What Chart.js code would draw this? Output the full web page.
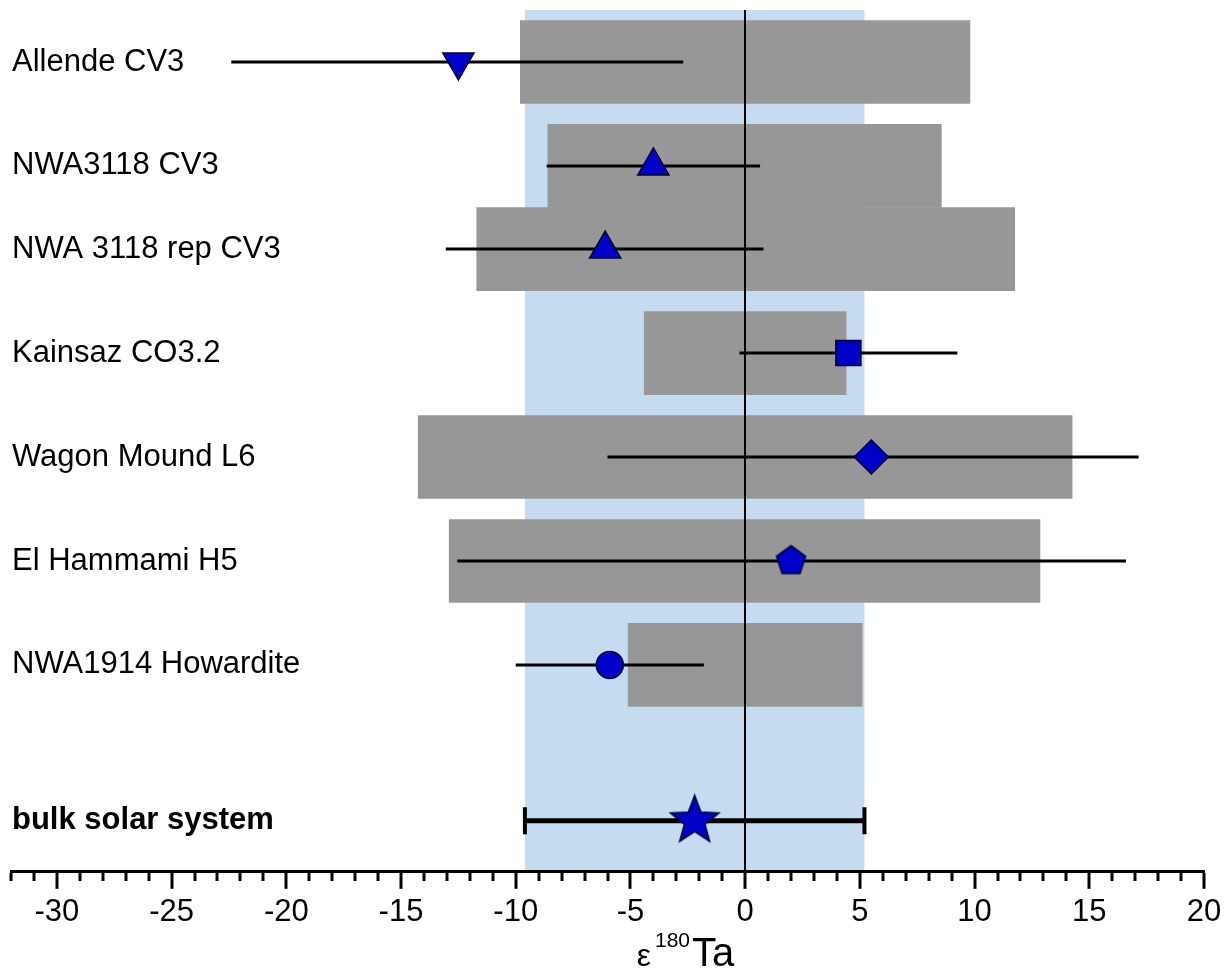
<!DOCTYPE html>
<html>
<head>
<meta charset="utf-8">
<script src="https://cdn.jsdelivr.net/npm/chart.js@4.4.1/dist/chart.umd.min.js"></script>
<style>
  html, body { margin: 0; padding: 0; background: #fff; }
  canvas { display: block; }
</style>
</head>
<body>
<canvas id="ta" width="1232" height="971"></canvas>
<script>
// samples, top to bottom
const samples = ['Allende CV3', 'NWA3118 CV3', 'NWA 3118 rep CV3', 'Kainsaz CO3.2', 'Wagon Mound L6', 'El Hammami H5', 'NWA1914 Howardite', 'bulk solar system'];
// where each sample sits on the vertical axis
const rowPos = [1, 2, 2.8, 3.8, 4.8, 5.8, 6.8, 8.3];
// measured e180Ta with its error bar
const eps = [-12.5, -4.0, -6.1, 4.5, 5.5, 2.0, -5.9, -2.2];
const errLow = [-22.4, -8.65, -13.05, -0.25, -6.0, -12.55, -10.0, -9.6];
const errHigh = [-2.7, 0.65, 0.8, 9.25, 17.15, 16.6, -1.8, 5.2];
// grey bars (one per meteorite)
const rangeLow = [-9.8, -8.6, -11.7, -4.4, -14.25, -12.9, -5.1];
const rangeHigh = [9.8, 8.55, 11.75, 4.4, 14.25, 12.85, 5.1];
// light blue band, bulk solar system range
const bulkBand = [-9.6, 5.2];
const xRange = [-32, 20];

const FONT = '"Liberation Sans", Arial, sans-serif';
const FILL = '#0000c8';
const EDGE = '#000030';

// pentagon and filled star are not built in, so draw them on small canvases
function polygon(n, R, inner) {
    const c = document.createElement('canvas');
    const s = Math.ceil(2 * R + 4);
    c.width = s; c.height = s;
    const g = c.getContext('2d');
    const k = inner ? 2 * n : n;
    g.beginPath();
    for (let i = 0; i < k; i++) {
        const r = inner && i % 2 ? R * inner : R;
        const a = -Math.PI / 2 + i * 2 * Math.PI / k;
        g.lineTo(s / 2 + r * Math.cos(a), s / 2 + r * Math.sin(a));
    }
    g.closePath();
    g.fillStyle = FILL; g.fill();
    g.lineWidth = 1.5; g.strokeStyle = EDGE; g.stroke();
    return c;
}
const pentagon = polygon(5, 15.3);
const star = polygon(5, 25.5, 0.42);

// background band
const bandPlugin = {
    id: 'band',
    beforeDatasetsDraw(chart) {
        const {ctx, chartArea: a, scales: {x}} = chart;
        const l = x.getPixelForValue(bulkBand[0]);
        const r = x.getPixelForValue(bulkBand[1]);
        ctx.save();
        ctx.fillStyle = '#c5dbef';
        ctx.fillRect(l, a.top, r - l, a.bottom - a.top);
        ctx.restore();
    }
};

// x axis title with a real superscript
const titlePlugin = {
    id: 'axisTitle',
    afterDraw(chart) {
        const {ctx, scales: {x}} = chart;
        const cx = x.getPixelForValue(-2.6);
        const base = 966;
        const parts = [
            {t: '\u03B5', f: '32px ' + FONT, dy: 0, gap: 4},
            {t: '180', f: '21px ' + FONT, dy: -19, gap: 2},
            {t: 'Ta', f: '40px ' + FONT, dy: 0, gap: 0}
        ];
        ctx.save();
        let total = 0;
        parts.forEach(p => { ctx.font = p.f; p.w = ctx.measureText(p.t).width; total += p.w + p.gap; });
        let xx = cx - total / 2;
        ctx.fillStyle = '#000';
        ctx.textBaseline = 'alphabetic';
        ctx.textAlign = 'left';
        parts.forEach(p => {
            ctx.font = p.f;
            ctx.fillText(p.t, xx, base + p.dy);
            xx += p.w + p.gap;
        });
        ctx.restore();
    }
};

// error bars, one line per sample; the bulk one is thicker with end caps
const errSets = rowPos.map((y, i) => {
    const bulk = i === samples.length - 1;
    return {
        type: 'line',
        data: [{x: errLow[i], y: y}, {x: errHigh[i], y: y}],
        borderColor: '#000',
        borderWidth: bulk ? 5 : 3,
        pointRadius: bulk ? 13.5 : 0,
        pointStyle: 'line',
        pointRotation: 90,
        pointBorderWidth: 4,
        pointBorderColor: '#000',
        order: 1
    };
});

const ctx = document.getElementById('ta').getContext('2d');
const taChart = new Chart(ctx, {
    type: 'scatter',
    data: {
        datasets: [
            {
                type: 'scatter',
                data: eps.map((v, i) => ({x: v, y: rowPos[i]})),
                pointStyle: ['triangle', 'triangle', 'triangle', 'rect', 'rectRot', pentagon, 'circle', star],
                pointRotation: [180, 0, 0, 0, 0, 0, 0, 0],
                pointRadius: [18, 18, 18, 17.7, 17, 15, 13.5, 25],
                pointBackgroundColor: FILL,
                pointBorderColor: EDGE,
                pointBorderWidth: 1.5,
                order: 0
            },
            ...errSets,
            {
                type: 'bar',
                indexAxis: 'y',
                data: rangeLow.map((lo, i) => ({x: [lo, rangeHigh[i]], y: rowPos[i]})),
                backgroundColor: '#979797',
                borderWidth: 0,
                barThickness: 83,
                order: 2
            }
        ]
    },
    options: {
        responsive: false,
        animation: false,
        layout: {autoPadding: false, padding: {left: 1, right: 28, top: 10, bottom: 35}},
        plugins: {legend: {display: false}, tooltip: {enabled: false}},
        scales: {
            x: {
                type: 'linear', min: xRange[0], max: xRange[1], offset: false, beginAtZero: false,
                border: {display: true, color: '#000', width: 3, z: 1},
                grid: {
                    z: 1,
                    offset: false,
                    drawOnChartArea: true,
                    color: c => (c.tick && c.tick.value === 0) ? '#000' : 'rgba(0,0,0,0)',
                    lineWidth: 2,
                    tickLength: 17, tickWidth: 3, tickColor: '#000',
                    tickBorderDash: c => (c.tick && c.tick.value % 5 === 0) ? [] : [8, 40]
                },
                ticks: {
                    stepSize: 1, autoSkip: false, maxRotation: 0, padding: 5, color: '#000',
                    font: {family: FONT, size: 31},
                    callback: v => v % 5 === 0 ? String(v) : ''
                }
            },
            y: {
                type: 'linear', reverse: true, min: 0.5, max: 8.79, offset: false,
                grid: {display: false, offset: false},
                border: {display: false},
                afterBuildTicks: s => { s.ticks = rowPos.map(v => ({value: v})); },
                ticks: {
                    mirror: true, padding: 1, color: '#000', autoSkip: false,
                    font: c => ({family: FONT, size: 31, lineHeight: 0.5,
                        weight: c.index === samples.length - 1 ? 'bold' : 'normal'}),
                    callback: (v, i) => samples[i]
                }
            }
        }
    },
    plugins: [bandPlugin, titlePlugin]
});
</script>
</body>
</html>
